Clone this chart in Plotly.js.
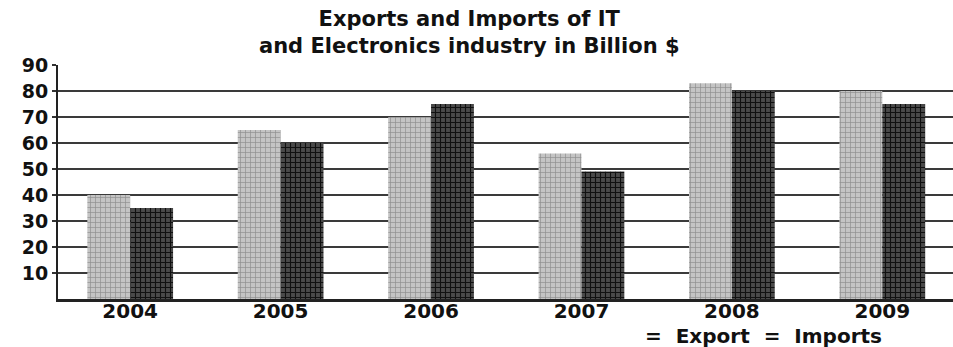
<!DOCTYPE html>
<html>
<head>
<meta charset="utf-8">
<script src="https://cdn.plot.ly/plotly-3.0.1.min.js"></script>
<style>
html,body{margin:0;padding:0;background:#fff;}
#chart{width:953px;height:347px;}
</style>
</head>
<body>
<div id="chart"></div>
<script>
var years = ['2004', '2005', '2006', '2007', '2008', '2009'];
var exportVals = [40, 65, 70, 56, 83, 80];
var importVals = [35, 60, 75, 49, 80, 75];
var yTickVals = [10, 20, 30, 40, 50, 60, 70, 80, 90];
var titleText = 'Exports and Imports of IT<br>and Electronics industry in Billion $';
var legendText = '=  Export  =  Imports';

var traces = [
  {
    type: 'bar', name: 'Export', x: years, y: exportVals,
    marker: {color: '#b8b8b8', line: {width: 0},
      pattern: {shape: '+', fgcolor: '#8f8f8f', bgcolor: '#c4c4c4', size: 5, solidity: 0.25}},
    hoverinfo: 'x+y'
  },
  {
    type: 'bar', name: 'Imports', x: years, y: importVals,
    marker: {color: '#2e2e2e', line: {width: 0},
      pattern: {shape: '+', fgcolor: '#111111', bgcolor: '#4a4a4a', size: 5, solidity: 0.4}},
    hoverinfo: 'x+y'
  }
];

var layout = {
  width: 953, height: 347,
  margin: {l: 58, r: 0, t: 65, b: 48},
  paper_bgcolor: '#ffffff', plot_bgcolor: '#ffffff',
  barmode: 'group', bargap: 0.43, bargroupgap: 0,
  showlegend: false,
  xaxis: {
    type: 'category', range: [-0.48, 5.47],
    showgrid: false, showline: true, linecolor: '#222', linewidth: 3,
    ticks: '', ticklen: 0, tickfont: {family: 'DejaVu Sans', size: 20, color: '#111', weight: 'bold'},
    ticklabelstandoff: -8, zeroline: false, fixedrange: true
  },
  yaxis: {
    range: [0, 90], tickvals: yTickVals,
    showgrid: true, gridcolor: '#3a3a3a', gridwidth: 2,
    showline: true, linecolor: '#222', linewidth: 2,
    ticks: 'outside', ticklen: 4, tickcolor: '#333', tickwidth: 2,
    tickfont: {family: 'DejaVu Sans', size: 19, color: '#111', weight: 'bold'},
    zeroline: false, fixedrange: true
  },
  annotations: [
    {
      text: titleText, xref: 'paper', yref: 'paper',
      x: 0.4603, y: 1.139, xanchor: 'center', yanchor: 'middle', showarrow: false,
      font: {family: 'DejaVu Sans', size: 21, color: '#111', weight: 'bold'}
    },
    {
      text: legendText, xref: 'paper', yref: 'paper',
      x: 0.788, y: -0.16, xanchor: 'center', yanchor: 'middle', showarrow: false,
      font: {family: 'DejaVu Sans', size: 20, color: '#111', weight: 'bold'}
    }
  ]
};

Plotly.newPlot('chart', traces, layout, {displayModeBar: false, staticPlot: true});
</script>
</body>
</html>
